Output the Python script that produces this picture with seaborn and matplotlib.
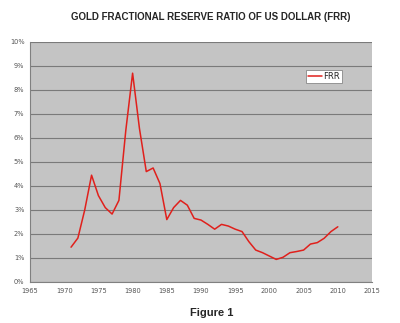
import matplotlib
matplotlib.use("Agg")
import matplotlib.pyplot as plt
import seaborn as sns
import pandas as pd
from matplotlib.ticker import FuncFormatter

years = list(range(1971, 2011))
frr = [1.45, 1.83, 3.0, 4.45, 3.6, 3.1, 2.83, 3.4, 6.3, 8.7,
       6.4, 4.6, 4.75, 4.1, 2.6, 3.1, 3.4, 3.2, 2.65, 2.58,
       2.4, 2.2, 2.4, 2.33, 2.2, 2.1, 1.68, 1.33, 1.22, 1.08,
       0.94, 1.03, 1.22, 1.27, 1.33, 1.58, 1.64, 1.82, 2.1, 2.3]
x_ticks = list(range(1965, 2020, 5))
y_ticks = list(range(0, 11))

df = pd.DataFrame({"Year": years, "FRR": frr})

sns.set_style("white")
fig = plt.figure(figsize=(4.0, 3.23), dpi=100)
ax = fig.add_axes([0.075, 0.127, 0.855, 0.743])
ax.set_facecolor("#c4c4c4")

sns.lineplot(data=df, x="Year", y="FRR", ax=ax, color="#e0201c",
             linewidth=1.1, label="FRR")

ax.set_xlim(1965, 2015)
ax.set_ylim(0, 10)
ax.set_xticks(x_ticks)
ax.set_yticks(y_ticks)
ax.yaxis.set_major_formatter(FuncFormatter(lambda v, p: f"{int(v)}%"))
ax.tick_params(labelsize=4.8, labelcolor="#555555", length=2, width=0.6,
               color="#808080", pad=2)
ax.grid(axis="y", color="#7a7a7a", linewidth=0.8)
ax.set_axisbelow(True)
for s in ["top", "right"]:
    ax.spines[s].set_visible(False)
for s in ["left", "bottom"]:
    ax.spines[s].set_color("#808080")
    ax.spines[s].set_linewidth(0.8)
ax.set_xlabel("")
ax.set_ylabel("")

leg = ax.legend(loc="upper left", bbox_to_anchor=(0.808, 0.885), fontsize=6,
                frameon=True, fancybox=False, handlelength=1.6,
                handletextpad=0.2, borderpad=0.25, borderaxespad=0)
leg.get_frame().set_edgecolor("#888888")
leg.get_frame().set_linewidth(0.6)
leg.get_frame().set_facecolor("white")
leg.get_frame().set_alpha(1)

fig.text(0.527, 0.946, "GOLD FRACTIONAL RESERVE RATIO OF US DOLLAR (FRR)",
         ha="center", va="center", fontsize=7.0, fontweight="bold",
         family="Liberation Sans")
fig.text(0.53, 0.031, "Figure 1", ha="center", va="center", fontsize=8,
         fontweight="bold", family="Liberation Sans")

fig.savefig("out.png", dpi=100)
